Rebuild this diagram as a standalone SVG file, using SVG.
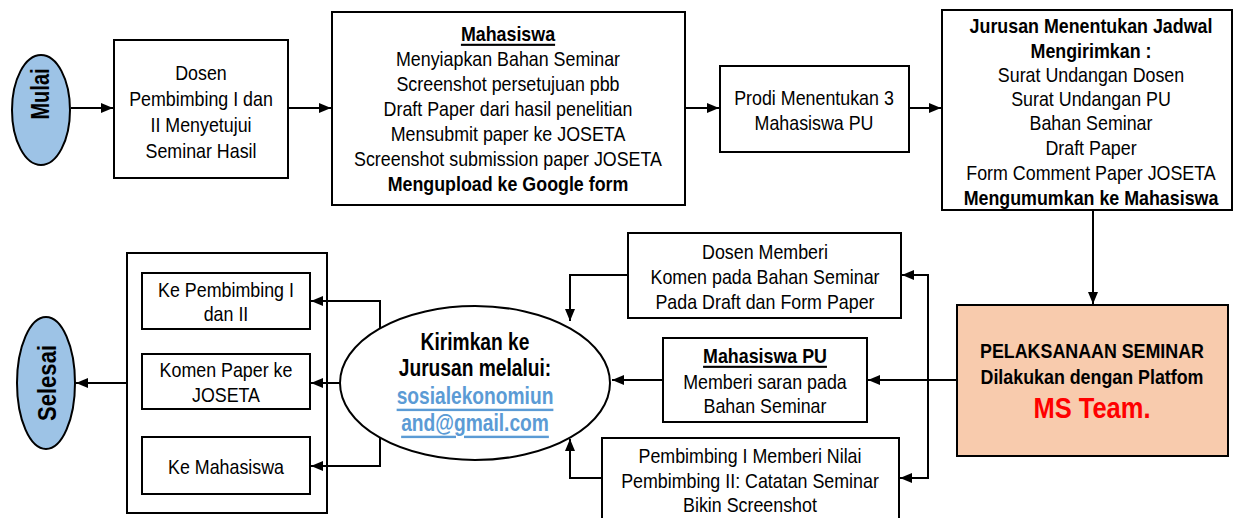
<svg xmlns="http://www.w3.org/2000/svg" width="1236" height="518" viewBox="0 0 1236 518">
<style>
.box{fill:#fff;stroke:#000;stroke-width:2}
.term{fill:#9DC3E6;stroke:#000;stroke-width:2}
.t{font-family:"Liberation Sans",Arial,sans-serif;font-size:21px;fill:#000;text-anchor:middle;dominant-baseline:central}
.b{font-weight:bold}
.u{text-decoration:underline}
.c{fill:none;stroke:#000;stroke-width:2}
</style>
<defs>
<marker id="ah" markerUnits="userSpaceOnUse" markerWidth="12" markerHeight="10" refX="12" refY="5" orient="auto">
<path d="M0,0 L12,5 L0,10 z" fill="#000"/>
</marker>
</defs>
<g id="mulai">
<ellipse class="term" cx="41" cy="110" rx="29" ry="55"/>
<text class="t b" style="font-size:25px" transform="translate(41,94) rotate(-90) scale(0.8,1)">Mulai</text>
</g>
<g id="dosen">
<rect class="box" x="114" y="40" width="174" height="138"/>
<text class="t" transform="translate(201,72) scale(0.85,1)">Dosen</text>
<text class="t" transform="translate(201,98) scale(0.85,1)">Pembimbing I dan</text>
<text class="t" transform="translate(201,124) scale(0.85,1)">II Menyetujui</text>
<text class="t" transform="translate(201,150) scale(0.85,1)">Seminar Hasil</text>
</g>
<g id="mahasiswa">
<rect class="box" x="332" y="12" width="353" height="193"/>
<text class="t b u" transform="translate(508,33) scale(0.85,1)">Mahasiswa</text>
<text class="t" transform="translate(508,58) scale(0.85,1)">Menyiapkan Bahan Seminar</text>
<text class="t" transform="translate(508,83) scale(0.85,1)">Screenshot persetujuan pbb</text>
<text class="t" transform="translate(508,108) scale(0.85,1)">Draft Paper dari hasil penelitian</text>
<text class="t" transform="translate(508,133) scale(0.85,1)">Mensubmit paper ke JOSETA</text>
<text class="t" transform="translate(508,158) scale(0.85,1)">Screenshot submission paper JOSETA</text>
<text class="t b" transform="translate(508,183) scale(0.85,1)">Mengupload ke Google form</text>
</g>
<g id="prodi">
<rect class="box" x="720" y="66" width="189" height="86"/>
<text class="t" transform="translate(814,97) scale(0.85,1)">Prodi Menentukan 3</text>
<text class="t" transform="translate(814,122) scale(0.85,1)">Mahasiswa PU</text>
</g>
<g id="jurusan">
<rect class="box" x="942" y="10" width="290" height="200"/>
<text class="t b" transform="translate(1091,25) scale(0.85,1)">Jurusan Menentukan Jadwal</text>
<text class="t b" transform="translate(1091,50) scale(0.85,1)">Mengirimkan :</text>
<text class="t" transform="translate(1091,74) scale(0.85,1)">Surat Undangan Dosen</text>
<text class="t" transform="translate(1091,98) scale(0.85,1)">Surat Undangan PU</text>
<text class="t" transform="translate(1091,122) scale(0.85,1)">Bahan Seminar</text>
<text class="t" transform="translate(1091,147) scale(0.85,1)">Draft Paper</text>
<text class="t" transform="translate(1091,172) scale(0.85,1)">Form Comment Paper JOSETA</text>
<text class="t b" transform="translate(1091,197) scale(0.85,1)">Mengumumkan ke Mahasiswa</text>
</g>
<g id="pelaksanaan">
<rect x="957" y="305" width="271" height="151" fill="#F8CBAD" stroke="#000" stroke-width="2"/>
<text class="t b" transform="translate(1092,350) scale(0.85,1)">PELAKSANAAN SEMINAR</text>
<text class="t b" transform="translate(1092,376) scale(0.85,1)">Dilakukan dengan Platfom</text>
<text class="t b" style="font-size:30px;fill:#FF0000" transform="translate(1092,408) scale(0.85,1)">MS Team.</text>
</g>
<g id="dosen-memberi">
<rect class="box" x="628" y="233" width="273" height="85"/>
<text class="t" transform="translate(765,251) scale(0.85,1)">Dosen Memberi</text>
<text class="t" transform="translate(765,276) scale(0.85,1)">Komen pada Bahan Seminar</text>
<text class="t" transform="translate(765,301) scale(0.85,1)">Pada Draft dan Form Paper</text>
</g>
<g id="mahasiswa-pu">
<rect class="box" x="663" y="338" width="204" height="84"/>
<text class="t b u" transform="translate(765,355) scale(0.85,1)">Mahasiswa PU</text>
<text class="t" transform="translate(765,381) scale(0.85,1)">Memberi saran pada</text>
<text class="t" transform="translate(765,405) scale(0.85,1)">Bahan Seminar</text>
</g>
<g id="pembimbing">
<rect class="box" x="602" y="438" width="297" height="90"/>
<text class="t" transform="translate(750,455) scale(0.85,1)">Pembimbing I Memberi Nilai</text>
<text class="t" transform="translate(750,480) scale(0.85,1)">Pembimbing II: Catatan Seminar</text>
<text class="t" transform="translate(750,504) scale(0.85,1)">Bikin Screenshot</text>
</g>
<g id="kirimkan">
<ellipse class="box" cx="475" cy="383" rx="135" ry="77"/>
<text class="t b" style="font-size:24px" transform="translate(475,342) scale(0.8,1)">Kirimkan ke</text>
<text class="t b" style="font-size:24px" transform="translate(475,368) scale(0.8,1)">Jurusan melalui:</text>
<text class="t b u" style="font-size:24px;fill:#5B9BD5" transform="translate(475,396) scale(0.8,1)">sosialekonomiun</text>
<text class="t b u" style="font-size:24px;fill:#5B9BD5" transform="translate(475,423) scale(0.8,1)">and@gmail.com</text>
</g>
<g id="container">
<rect class="box" x="127" y="253" width="200" height="260"/>
</g>
<g id="ke-pembimbing">
<rect class="box" x="142" y="273" width="168" height="56"/>
<text class="t" transform="translate(226,289) scale(0.85,1)">Ke Pembimbing I</text>
<text class="t" transform="translate(226,313) scale(0.85,1)">dan II</text>
</g>
<g id="komen-paper">
<rect class="box" x="142" y="354" width="168" height="55"/>
<text class="t" transform="translate(226,369) scale(0.85,1)">Komen Paper ke</text>
<text class="t" transform="translate(226,394) scale(0.85,1)">JOSETA</text>
</g>
<g id="ke-mahasiswa">
<rect class="box" x="142" y="437" width="168" height="57"/>
<text class="t" transform="translate(226,466) scale(0.85,1)">Ke Mahasiswa</text>
</g>
<g id="selesai">
<ellipse class="term" cx="46" cy="383" rx="29" ry="66"/>
<text class="t b" style="font-size:26px" transform="translate(47,383) rotate(-90) scale(0.85,1)">Selesai</text>
</g>
<g id="connectors">
<path class="c" d="M71,108 L113,108" marker-end="url(#ah)"/>
<path class="c" d="M288,108 L331,108" marker-end="url(#ah)"/>
<path class="c" d="M685,108 L719,108" marker-end="url(#ah)"/>
<path class="c" d="M909,108 L941,108" marker-end="url(#ah)"/>
<path class="c" d="M1093,210 L1093,304" marker-end="url(#ah)"/>
<path class="c" d="M957,380 L868,380" marker-end="url(#ah)"/>
<path class="c" d="M928,380 L928,275 L902,275" marker-end="url(#ah)"/>
<path class="c" d="M928,380 L928,478 L900,478" marker-end="url(#ah)"/>
<path class="c" d="M628,275 L570,275 L570,321" marker-end="url(#ah)"/>
<path class="c" d="M663,380 L612,380" marker-end="url(#ah)"/>
<path class="c" d="M602,478 L570,478 L570,439" marker-end="url(#ah)"/>
<path class="c" d="M340,383 L311,383" marker-end="url(#ah)"/>
<path class="c" d="M380,329 L380,301 L311,301" marker-end="url(#ah)"/>
<path class="c" d="M380,437 L380,466 L311,466" marker-end="url(#ah)"/>
<path class="c" d="M127,383 L76,383" marker-end="url(#ah)"/>
</g>
</svg>
